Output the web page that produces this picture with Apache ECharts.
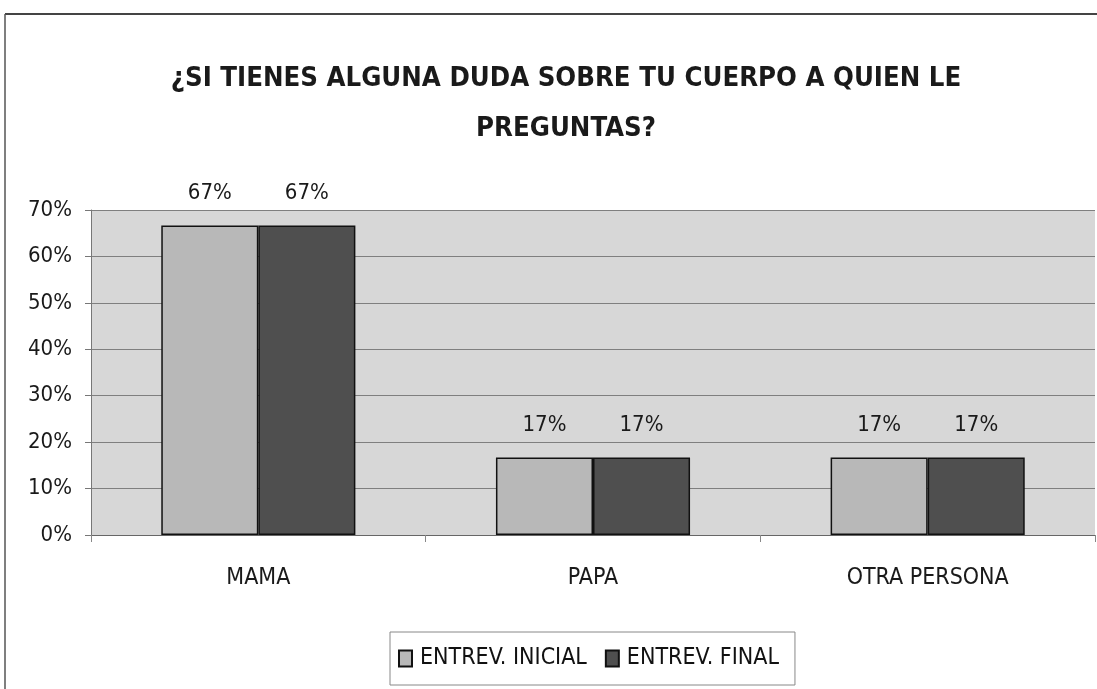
<!DOCTYPE html>
<html>
<head>
<meta charset="utf-8">
<script src="https://cdn.jsdelivr.net/npm/echarts@6/dist/echarts.min.js"></script>
<style>
  html, body { margin: 0; padding: 0; background: #fff; }
  #chart { width: 1097px; height: 689px; }
</style>
</head>
<body>
<div id="chart"></div>
<script>
const categories = ['MAMA', 'PAPA', 'OTRA PERSONA'];
const seriesNames = ['ENTREV. INICIAL', 'ENTREV. FINAL'];
const inicial = [66.67, 16.67, 16.67];
const final = [66.67, 16.67, 16.67];
const titleLines = ['¿SI TIENES ALGUNA DUDA SOBRE TU CUERPO A QUIEN LE', 'PREGUNTAS?'];

const narrow = '"Liberation Sans Narrow", "Arial Narrow", "DejaVu Sans Condensed", "Liberation Sans", sans-serif';

const myChart = echarts.init(document.getElementById('chart'));

// etiqueta de porcentaje encima de cada barra
const barLabel = {
  show: true,
  position: 'top',
  distance: 21,
  fontFamily: narrow,
  fontSize: 22,
  color: '#1a1a1a',
  formatter: p => Math.round(p.value) + '%'
};

const option = {
  backgroundColor: '#fff',
  animation: false,
  title: {
    text: titleLines.join('\n'),
    left: 561,
    textAlign: 'center',
    top: 49,
    textStyle: {
      fontFamily: narrow,
      fontWeight: 'bold',
      fontSize: 27.3,
      lineHeight: 50,
      color: '#1a1a1a'
    }
  },
  graphic: [
    { type: 'line', shape: { x1: 5, y1: 14, x2: 1097, y2: 14 }, style: { stroke: '#444', lineWidth: 2 } },
    { type: 'line', shape: { x1: 5, y1: 14, x2: 5, y2: 689 }, style: { stroke: '#555', lineWidth: 1.5 } }
  ],
  legend: {
    data: seriesNames,
    left: 390,
    top: 632,
    padding: [15, 16, 15, 8],
    borderColor: '#888',
    borderWidth: 1,
    itemWidth: 13,
    itemHeight: 16,
    itemGap: 18,
    icon: 'rect',
    textStyle: { fontFamily: narrow, fontSize: 23, color: '#111', padding: [0, 0, 0, 3] }
  },
  grid: { left: 91, right: 2, top: 210, bottom: 154, backgroundColor: '#d7d7d7', show: true, borderWidth: 0 },
  xAxis: {
    type: 'category',
    data: categories,
    axisLine: { lineStyle: { color: '#666', width: 1 } },
    axisTick: { show: true, length: 7, lineStyle: { color: '#888' } },
    axisLabel: { fontFamily: narrow, fontSize: 23, color: '#1a1a1a', margin: 32 }
  },
  yAxis: {
    type: 'value',
    min: 0,
    max: 70,
    interval: 10,
    axisLine: { show: true, lineStyle: { color: '#777' } },
    axisTick: { show: true, length: 6, lineStyle: { color: '#777' } },
    axisLabel: { fontFamily: narrow, fontSize: 22, color: '#1a1a1a', formatter: '{value}%', margin: 19 },
    splitLine: { lineStyle: { color: '#7f7f7f', width: 1 } }
  },
  series: [
    {
      name: seriesNames[0],
      type: 'bar',
      data: inicial,
      barGap: '0%',
      barCategoryGap: '42%',
      itemStyle: { color: '#b8b8b8', borderColor: '#111', borderWidth: 1.5 },
      label: barLabel
    },
    {
      name: seriesNames[1],
      type: 'bar',
      data: final,
      itemStyle: { color: '#4f4f4f', borderColor: '#111', borderWidth: 1.5 },
      label: barLabel
    }
  ]
};

myChart.setOption(option);
window.addEventListener('resize', () => myChart.resize());
</script>
</body>
</html>
